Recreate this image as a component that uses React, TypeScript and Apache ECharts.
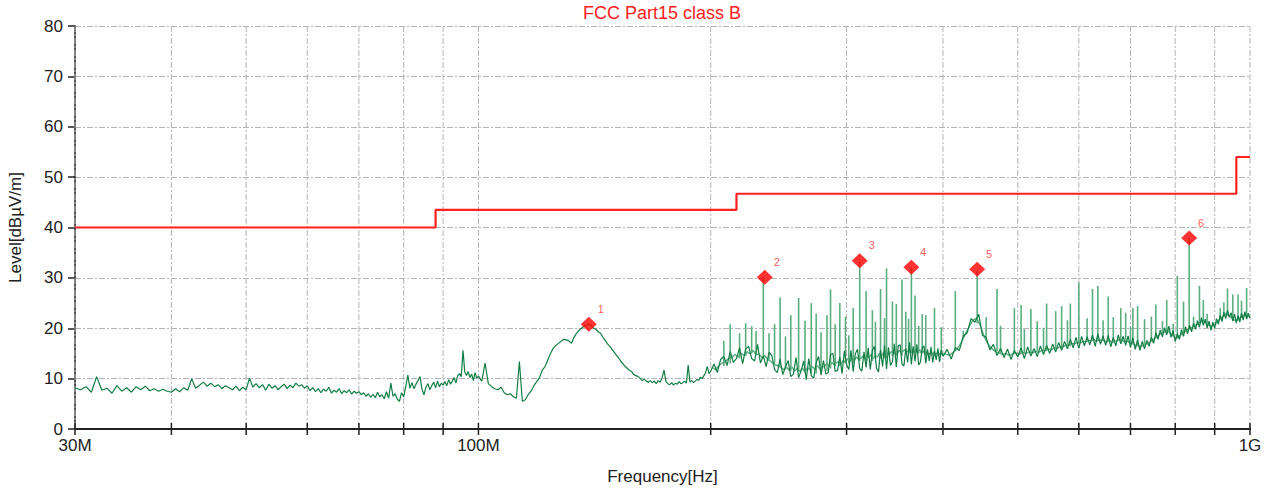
import React, { useEffect, useRef } from "react";
import * as echarts from "echarts";

const chartTitle = "FCC Part15 class B";
const xAxisName = "Frequency[Hz]";
const yAxisName = "Level[dBµV/m]";
const xTickLabels: Record<number, string> = { 30: "30M", 100: "100M", 1000: "1G" };
const gridFreqs = [30, 40, 50, 60, 70, 80, 90, 100, 200, 300, 400, 500, 600, 700, 800, 900, 1000];

// FCC class B limit (MHz, dBµV/m)
const limitLine: [number, number][] = [
  [30, 40], [88, 40], [88, 43.5], [216, 43.5], [216, 46.7], [960, 46.7], [960, 54], [1000, 54],
];

const trace30to60: [number, number][] = [
  [30, 8.2], [30.5, 7.8], [31, 8.4], [31.5, 7.3], [32, 10.4], [32.5, 7.7], [33, 8.1], [33.5, 7.1], [34, 8.6], [34.5, 7.5],
  [35, 8.2], [35.5, 7.3], [36, 8.4], [36.5, 7.8], [37, 8.5], [37.5, 7.6], [38, 8.0], [38.5, 7.5], [39, 7.9], [39.5, 7.5],
  [40, 7.3], [40.5, 8.0], [41, 7.4], [41.5, 8.2], [42, 7.7], [42.5, 10.0], [43, 8.1], [43.5, 8.7], [44, 9.3], [44.5, 8.5],
  [45, 9.1], [45.5, 8.4], [46, 8.8], [46.5, 8.0], [47, 8.6], [47.5, 8.2], [48, 7.8], [48.5, 8.5], [49, 7.6], [49.5, 8.3],
  [50, 7.8], [50.5, 10.1], [51, 8.3], [51.5, 9.0], [52, 8.2], [52.5, 8.8], [53, 7.7], [53.5, 8.9], [54, 8.1], [54.5, 8.6],
  [55, 7.8], [55.5, 8.4], [56, 8.9], [56.5, 8.0], [57, 8.7], [57.5, 8.2], [58, 9.1], [58.5, 8.5], [59, 8.8], [59.5, 8.1],
];
const trace60to100: [number, number][] = [
  [60, 8.6], [60.5, 7.6], [61, 8.2], [61.5, 7.4], [62, 8.0], [62.5, 7.2], [63, 7.9], [63.5, 7.5], [64, 8.3], [64.5, 7.1],
  [65, 7.7], [65.5, 7.3], [66, 8.0], [66.5, 7.0], [67, 7.6], [67.5, 7.2], [68, 7.8], [68.5, 6.9], [69, 7.5], [69.5, 7.1],
  [70, 7.4], [70.5, 6.8], [71, 7.2], [71.5, 6.5], [72, 7.0], [72.5, 6.3], [73, 6.9], [73.5, 6.2], [74, 7.3], [74.5, 6.4],
  [75, 6.8], [75.5, 6.0], [76, 7.4], [76.5, 6.1], [77, 9.1], [77.5, 6.5], [78, 7.0], [78.5, 5.9], [79, 5.5], [79.5, 7.2],
  [80, 6.4], [80.5, 8.4], [81, 10.7], [81.5, 8.1], [82, 9.2], [82.5, 8.0], [83, 8.9], [83.5, 9.6], [84, 10.4], [84.5, 7.9],
  [85, 6.8], [85.5, 8.3], [86, 9.0], [86.5, 7.8], [87, 8.6], [87.5, 9.3], [88, 8.2], [88.5, 9.5], [89, 8.4], [89.5, 9.1],
  [90, 8.7], [90.5, 9.4], [91, 8.6], [91.5, 9.8], [92, 8.9], [92.5, 9.5], [93, 10.2], [93.5, 9.1], [94, 10.6], [94.5, 11.0],
  [95, 10.4], [95.5, 15.6], [96, 11.3], [96.5, 10.6], [97, 11.4], [97.5, 10.2], [98, 10.9], [98.5, 9.6], [99, 11.2], [99.5, 10.1],
];
const trace100to200: [number, number][] = [
  [100, 10.5], [101, 9.5], [102, 13.1], [103, 9.0], [104, 8.4], [105, 8.0], [106, 7.8], [107, 8.3], [108, 7.2], [109, 6.8],
  [110, 7.0], [111, 6.4], [112, 6.1], [113, 13.4], [114, 5.5], [115, 5.8], [116, 6.8], [117, 7.5], [118, 8.6], [119, 9.4],
  [120, 10.2], [121, 11.7], [122, 12.4], [123, 13.7], [124, 15.0], [125, 16.0], [126, 16.6], [127, 17.0], [128, 17.4], [129, 17.8],
  [130, 17.7], [131, 17.5], [132, 17.0], [133, 18.2], [134, 19.0], [135, 19.6], [136, 20.0], [137, 20.4], [138, 20.6], [139, 20.8],
  [140, 20.6], [141, 20.0], [142, 19.8], [143, 19.3], [144, 19.0], [145, 18.2], [146, 17.6], [147, 16.9], [148, 16.4], [149, 15.8],
  [150, 15.2], [151, 14.6], [152, 14.1], [153, 13.4], [154, 12.9], [155, 12.4], [156, 12.0], [157, 11.6], [158, 11.4], [159, 10.8],
  [160, 10.6], [161, 10.4], [162, 10.1], [163, 9.6], [164, 9.9], [165, 9.5], [166, 9.3], [167, 9.6], [168, 9.2], [169, 9.5],
  [170, 9.0], [171, 9.6], [172, 9.3], [173, 10.2], [174, 11.7], [175, 9.4], [176, 9.0], [177, 8.8], [178, 9.2], [179, 8.7],
  [180, 9.1], [181, 8.9], [182, 9.4], [183, 9.0], [184, 9.2], [185, 9.5], [186, 9.1], [187, 12.7], [188, 9.3], [189, 9.6],
  [190, 9.2], [191, 9.5], [192, 9.8], [193, 9.7], [194, 10.3], [195, 10.0], [196, 10.6], [197, 11.2], [198, 12.4], [199, 11.0],
];
const trace200to400: [number, number][] = [
  [200, 11.5], [202, 12.9], [204, 11.2], [206, 13.8], [208, 14.4], [210, 12.6], [212, 15.4], [214, 13.2], [216, 14.0], [218, 16.1],
  [220, 13.0], [222, 15.9], [224, 16.4], [226, 14.0], [228, 13.5], [230, 16.8], [232, 13.1], [234, 14.5], [236, 12.4], [238, 15.2],
  [240, 14.6], [242, 11.8], [244, 11.2], [246, 13.9], [248, 10.8], [250, 12.3], [252, 13.6], [254, 10.4], [256, 10.9], [258, 14.2],
  [260, 10.2], [262, 11.6], [264, 13.5], [266, 9.8], [268, 14.0], [270, 10.6], [272, 10.1], [274, 13.2], [276, 14.4], [278, 10.7],
  [280, 13.6], [282, 10.9], [284, 11.2], [286, 14.8], [288, 15.0], [290, 11.4], [292, 11.6], [294, 14.3], [296, 11.0], [298, 15.5],
  [300, 12.8], [302, 11.8], [304, 15.6], [306, 11.4], [308, 15.0], [310, 15.8], [312, 12.0], [314, 11.5], [316, 15.3], [318, 12.2],
  [320, 16.1], [322, 11.8], [324, 15.6], [326, 16.4], [328, 12.1], [330, 11.3], [332, 15.7], [334, 12.4], [336, 16.6], [338, 11.9],
  [340, 16.2], [342, 12.6], [344, 13.4], [346, 16.9], [348, 12.3], [350, 16.5], [352, 16.7], [354, 12.9], [356, 12.5], [358, 16.0],
  [360, 13.2], [362, 17.2], [364, 12.8], [366, 16.4], [368, 13.4], [370, 16.8], [372, 12.7], [374, 13.3], [376, 16.1], [378, 16.5],
  [380, 13.0], [382, 15.8], [384, 13.5], [386, 16.3], [388, 13.2], [390, 15.5], [392, 13.7], [394, 16.0], [396, 13.3], [398, 15.7],
];
const trace400to1000: [number, number][] = [
  [400, 14.4], [405, 15.8], [410, 13.9], [415, 16.2], [420, 15.6], [425, 18.4], [430, 19.1], [435, 21.9], [440, 21.2], [445, 22.8],
  [450, 18.6], [455, 18.2], [460, 15.7], [465, 16.8], [470, 14.6], [475, 16.0], [480, 14.2], [485, 15.9], [490, 13.8], [495, 15.6],
  [500, 14.3], [505, 16.1], [510, 14.0], [515, 16.3], [520, 14.5], [525, 16.0], [530, 14.4], [535, 16.5], [540, 14.8], [545, 16.6],
  [550, 15.0], [555, 16.9], [560, 15.3], [565, 17.2], [570, 15.6], [575, 17.4], [580, 15.9], [585, 17.8], [590, 16.1], [595, 18.2],
  [600, 16.0], [605, 18.4], [610, 16.5], [615, 18.3], [620, 16.7], [625, 18.7], [630, 16.4], [635, 18.9], [640, 16.8], [645, 18.5],
  [650, 16.6], [655, 18.6], [660, 16.3], [665, 18.2], [670, 16.5], [675, 18.7], [680, 16.9], [685, 18.4], [690, 16.6], [695, 18.5],
  [700, 16.2], [705, 18.1], [710, 15.8], [715, 17.7], [720, 15.6], [725, 17.4], [730, 15.9], [735, 17.6], [740, 16.4], [745, 18.2],
  [750, 17.0], [755, 19.1], [760, 17.8], [765, 19.6], [770, 18.3], [775, 20.1], [780, 18.7], [785, 20.4], [790, 18.2], [795, 19.5],
  [800, 17.4], [805, 18.9], [810, 17.8], [815, 19.7], [820, 18.4], [825, 20.3], [830, 18.9], [835, 20.6], [840, 19.3], [845, 21.0],
  [850, 19.8], [855, 21.5], [860, 20.2], [865, 22.1], [870, 20.6], [875, 21.8], [880, 20.1], [885, 21.4], [890, 19.6], [895, 21.2],
  [900, 20.0], [905, 21.9], [910, 20.8], [915, 22.6], [920, 21.3], [925, 23.2], [930, 21.9], [935, 23.6], [940, 22.2], [945, 23.1],
  [950, 21.4], [955, 22.8], [960, 21.0], [965, 22.5], [970, 21.2], [975, 23.0], [980, 21.6], [985, 23.3], [990, 21.8], [995, 23.0],
  [1000, 22.0],
];

// second (lighter) trace above 200 MHz
const lightTrace200to400: [number, number][] = [
  [201, 12.2], [203, 11.8], [205, 12.6], [207, 13.1], [209, 13.4], [211, 14.0], [213, 14.2], [215, 14.8], [217, 14.3], [219, 15.0],
  [221, 14.6], [223, 15.3], [225, 14.9], [227, 15.6], [229, 14.7], [231, 14.9], [233, 14.2], [235, 14.6], [237, 13.8], [239, 13.5],
  [241, 13.0], [243, 12.7], [245, 12.5], [247, 12.1], [249, 11.8], [251, 12.2], [253, 11.6], [255, 12.3], [257, 11.5], [259, 12.0],
  [261, 11.4], [263, 12.1], [265, 11.3], [267, 12.2], [269, 11.7], [271, 12.4], [273, 11.8], [275, 12.6], [277, 11.9], [279, 12.3],
  [281, 12.5], [283, 13.0], [285, 12.4], [287, 13.2], [289, 12.8], [291, 13.1], [293, 13.4], [295, 12.9], [297, 13.6], [299, 13.2],
  [301, 13.9], [303, 13.4], [305, 14.1], [307, 13.6], [309, 14.3], [311, 13.8], [313, 14.0], [315, 14.5], [317, 13.9], [319, 14.7],
  [321, 14.2], [323, 14.8], [325, 14.0], [327, 14.6], [329, 14.3], [331, 15.0], [333, 14.4], [335, 15.2], [337, 14.6], [339, 15.1],
  [341, 14.8], [343, 15.4], [345, 14.9], [347, 15.3], [349, 15.0], [351, 15.6], [353, 15.1], [355, 15.4], [357, 15.8], [359, 15.2],
  [361, 15.7], [363, 15.3], [365, 15.9], [367, 15.4], [369, 15.6], [371, 15.2], [373, 15.8], [375, 15.0], [377, 15.5], [379, 14.9],
  [381, 15.3], [383, 14.8], [385, 15.1], [387, 14.7], [389, 15.2], [391, 14.9], [393, 15.0], [395, 14.6], [397, 15.1], [399, 14.8],
];
const lightTrace400to1000: [number, number][] = [
  [402.5, 14.9], [407.5, 14.6], [412.5, 15.2], [417.5, 15.9], [422.5, 17.2], [427.5, 18.8], [432.5, 20.3], [437.5, 21.6], [442.5, 22.0], [447.5, 20.4],
  [452.5, 18.3], [457.5, 16.9], [462.5, 16.0], [467.5, 15.4], [472.5, 15.1], [477.5, 14.8], [482.5, 15.0], [487.5, 14.6], [492.5, 14.9], [497.5, 15.1],
  [502.5, 14.8], [507.5, 15.2], [512.5, 15.0], [517.5, 15.3], [522.5, 15.1], [527.5, 15.4], [532.5, 15.2], [537.5, 15.6], [542.5, 15.5], [547.5, 15.9],
  [552.5, 15.7], [557.5, 16.1], [562.5, 16.0], [567.5, 16.4], [572.5, 16.3], [577.5, 16.7], [582.5, 16.6], [587.5, 17.0], [592.5, 16.9], [597.5, 17.2],
  [602.5, 17.1], [607.5, 17.4], [612.5, 17.3], [617.5, 17.6], [622.5, 17.5], [627.5, 17.8], [632.5, 17.4], [637.5, 17.7], [642.5, 17.6], [647.5, 17.5],
  [652.5, 17.3], [657.5, 17.6], [662.5, 17.2], [667.5, 17.4], [672.5, 17.5], [677.5, 17.8], [682.5, 17.6], [687.5, 17.3], [692.5, 17.5], [697.5, 17.2],
  [702.5, 17.0], [707.5, 16.8], [712.5, 16.6], [717.5, 16.5], [722.5, 16.4], [727.5, 16.6], [732.5, 16.8], [737.5, 17.0], [742.5, 17.3], [747.5, 17.6],
  [752.5, 18.0], [757.5, 18.4], [762.5, 18.7], [767.5, 19.0], [772.5, 19.2], [777.5, 19.4], [782.5, 19.5], [787.5, 19.1], [792.5, 18.7], [797.5, 18.3],
  [802.5, 18.1], [807.5, 18.2], [812.5, 18.6], [817.5, 19.0], [822.5, 19.3], [827.5, 19.6], [832.5, 19.8], [837.5, 20.0], [842.5, 20.2], [847.5, 20.5],
  [852.5, 20.7], [857.5, 21.0], [862.5, 21.2], [867.5, 21.4], [872.5, 21.3], [877.5, 21.0], [882.5, 20.7], [887.5, 20.5], [892.5, 20.4], [897.5, 20.6],
  [902.5, 20.9], [907.5, 21.3], [912.5, 21.7], [917.5, 22.0], [922.5, 22.4], [927.5, 22.7], [932.5, 22.9], [937.5, 22.6], [942.5, 22.3], [947.5, 22.0],
  [952.5, 21.7], [957.5, 21.5], [962.5, 21.6], [967.5, 21.9], [972.5, 22.2], [977.5, 22.4], [982.5, 22.6], [987.5, 22.5], [992.5, 22.3], [997.5, 22.4],
];

// narrow emission spikes: [MHz, peak level, floor level]
const spikes: [number, number, number][] = [
  [208, 17.5, 12.5], [212, 20.8, 13], [218, 19, 14], [222, 21, 14.5], [226, 20.4, 15], [229, 19.5, 14.8], [234, 30.2, 14],
  [238, 19, 13.5], [242, 20.8, 13], [246, 26.1, 12.5], [250, 18.4, 12], [254, 22.6, 11.5], [260, 26, 11.5], [265, 21.5, 11.5],
  [270, 25, 11], [274, 22.9, 11], [278, 19.2, 11.5], [283, 22.6, 11.5], [286, 27.7, 12], [290, 20.8, 12.5], [294, 25, 12.5],
  [299, 22.3, 13], [302, 18.6, 13], [306, 24, 13], [312, 33.5, 13.5], [318, 27.4, 13.5], [324, 23.6, 13.5], [327, 21.3, 14],
  [332, 27.8, 14], [336, 22, 14], [338, 31.9, 14], [344, 25.3, 14.5], [348, 24.8, 14.5], [354, 29.7, 14.5], [358, 23.3, 14.8],
  [361, 21.9, 15], [364, 32.1, 15], [368, 26.5, 15], [372, 20.5, 15], [376, 22.8, 15], [380, 22.6, 14.5], [390, 24, 14.5],
  [398, 20.2, 15], [415, 27.4, 15.5], [425, 19.5, 18], [443, 31.4, 21], [455, 22.2, 17.5], [470, 27.8, 15.5], [475, 20.5, 15],
  [495, 24, 15], [505, 24.6, 15], [510, 19.8, 15], [520, 23.8, 15], [530, 21.4, 15.5], [540, 20.1, 15.5], [545, 24.9, 15.5],
  [560, 23.4, 16], [570, 24.4, 16], [580, 21.6, 16.5], [585, 24.9, 16.5], [600, 29.1, 17], [615, 22, 17.3], [625, 27.8, 17.5],
  [635, 28.4, 17.5], [645, 21.6, 17.5], [655, 26.3, 17.5], [665, 22.2, 17.5], [680, 24, 17.5], [690, 23.1, 17.5], [700, 20.3, 17],
  [705, 24, 17], [715, 24.4, 16.5], [730, 21.8, 16.8], [745, 22.3, 17.5], [755, 24.7, 18], [770, 21.4, 19], [780, 25.6, 19.5],
  [795, 20.9, 18.5], [805, 30.4, 18], [820, 25.3, 19], [834, 37.9, 20], [845, 22.3, 20.5], [860, 28.4, 21], [870, 25.6, 21.2],
  [880, 22.9, 21], [915, 24, 22], [925, 25.1, 22.4], [935, 27.9, 22.5], [950, 26.7, 21.7], [965, 26.7, 21.6], [975, 25.5, 22],
  [990, 28, 22.3],
];

// peak markers (MHz, dBµV/m, number)
const markerFreqs = [139, 235, 312, 364, 443, 834];
const markerLevels = [20.8, 30.1, 33.4, 32.1, 31.7, 37.9];
const markerNames = ["1", "2", "3", "4", "5", "6"];

const FONT = "'Liberation Sans', Arial, sans-serif";
const DARK_GREEN = "#127d45";
const LIGHT_GREEN = "#5cae80";

export default function App() {
  const ref = useRef<HTMLDivElement>(null);
  useEffect(() => {
    if (!ref.current) return;
    const chart = echarts.init(ref.current, null, { renderer: "svg" });
    const trace = [...trace30to60, ...trace60to100, ...trace100to200, ...trace200to400, ...trace400to1000];
    const lightTrace = [...lightTrace200to400, ...lightTrace400to1000];
    const option: any = {
      animation: false,
      backgroundColor: "#ffffff",
      textStyle: { fontFamily: FONT },
      title: {
        text: chartTitle,
        left: 662,
        textAlign: "center",
        top: 4,
        padding: 0,
        textStyle: { color: "#ff2020", fontSize: 18, fontWeight: "normal", fontFamily: FONT },
      },
      grid: { left: 75, right: 24, top: 26, bottom: 62, containLabel: false, outerBoundsMode: "none" },
      xAxis: {
        type: "log",
        logBase: 10,
        min: 30,
        max: 1000,
        name: xAxisName,
        nameLocation: "middle",
        nameGap: 39,
        nameMoveOverlap: false,
        nameTextStyle: { fontSize: 17, color: "#222", fontFamily: FONT },
        axisLine: { lineStyle: { color: "#222", width: 2 } },
        axisTick: { show: false },
        splitLine: { show: false },
        axisLabel: {
          fontSize: 17,
          color: "#222",
          margin: 8,
          formatter: (v: number) => xTickLabels[Math.round(v)] ?? "",
        },
      },
      yAxis: {
        type: "value",
        min: 0,
        max: 80,
        interval: 10,
        name: yAxisName,
        nameLocation: "middle",
        nameGap: 51,
        nameMoveOverlap: false,
        nameRotate: 90,
        nameTextStyle: { fontSize: 17, color: "#222", fontFamily: FONT },
        axisLine: { show: true, lineStyle: { color: "#555", width: 2 } },
        axisTick: { show: true, length: 7, lineStyle: { color: "#222", width: 1.5 } },
        axisLabel: { fontSize: 17, color: "#222", margin: 12 },
        splitLine: { show: true, lineStyle: { color: "#b4b4b4", width: 1, type: [6, 2, 2, 2] } },
      },
      series: [
        {
          type: "custom",
          silent: true,
          clip: false,
          z: 1,
          data: gridFreqs.map((f) => [f, 0]),
          renderItem: (_p: any, api: any) => {
            const f = api.value(0);
            const top = api.coord([f, 80]);
            const bot = api.coord([f, 0]);
            return {
              type: "group",
              children: [
                {
                  type: "line",
                  shape: { x1: top[0], y1: top[1], x2: bot[0], y2: bot[1] },
                  style: { stroke: "#b4b4b4", lineWidth: 1, lineDash: [6, 2, 2, 2] },
                },
                {
                  type: "line",
                  shape: { x1: bot[0], y1: bot[1] - 6, x2: bot[0], y2: bot[1] + 6 },
                  style: { stroke: "#222", lineWidth: 1.5 },
                },
              ],
            };
          },
        },
        {
          type: "line",
          name: "Trace 2",
          data: lightTrace,
          showSymbol: false,
          symbol: "none",
          z: 2,
          lineStyle: { color: LIGHT_GREEN, width: 1.4 },
        },
        {
          type: "custom",
          name: "Spikes",
          silent: true,
          z: 2,
          data: spikes,
          renderItem: (_p: any, api: any) => {
            const f = api.value(0);
            const top = api.coord([f, api.value(1)]);
            const bot = api.coord([f, api.value(2)]);
            return {
              type: "line",
              shape: { x1: top[0], y1: top[1], x2: bot[0], y2: bot[1] },
              style: { stroke: LIGHT_GREEN, lineWidth: 1.6 },
            };
          },
        },
        {
          type: "line",
          name: "Trace",
          data: trace,
          showSymbol: false,
          symbol: "none",
          z: 3,
          lineStyle: { color: DARK_GREEN, width: 1.2 },
        },
        {
          type: "line",
          name: "Limit",
          data: limitLine,
          showSymbol: false,
          symbol: "none",
          z: 4,
          lineStyle: { color: "#ff2020", width: 2.2 },
        },
        {
          type: "scatter",
          name: "Peaks",
          z: 5,
          symbol: "diamond",
          symbolSize: [16, 15],
          itemStyle: { color: "#ff0000" },
          data: markerFreqs.map((f, i) => [f, markerLevels[i], markerNames[i]]),
          label: {
            show: true,
            position: [20, -8],
            align: "center",
            verticalAlign: "middle",
            color: "#ff3030",
            fontSize: 11,
            fontFamily: FONT,
            formatter: (p: any) => p.value[2],
          },
        },
      ],
    };
    chart.setOption(option);
    return () => chart.dispose();
  }, []);
  return (
    <div
      ref={ref}
      style={{ position: "fixed", left: 0, top: 0, width: 1274, height: 491, background: "#fff" }}
    />
  );
}
